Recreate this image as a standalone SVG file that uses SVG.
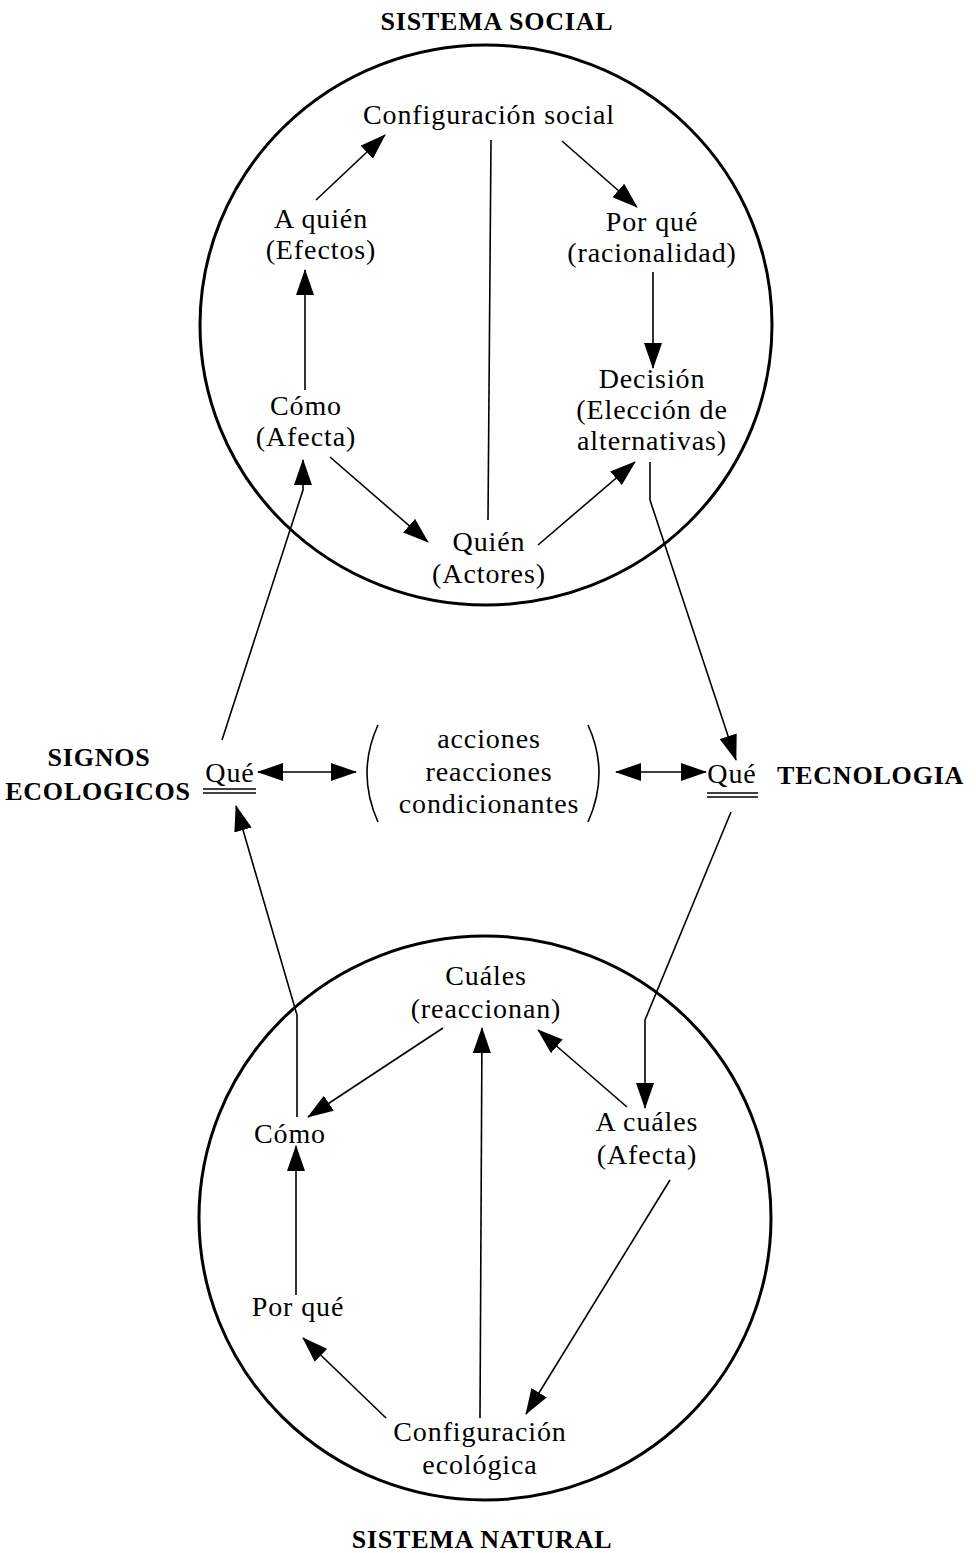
<svg xmlns="http://www.w3.org/2000/svg" width="976" height="1553" viewBox="0 0 976 1553">
<style>
text{font-family:"Liberation Serif","Times New Roman",serif;fill:#000}
.n{font-size:28px;letter-spacing:0.9px;text-anchor:middle}
.t{font-size:26px;font-weight:bold;letter-spacing:0.8px}
.c{fill:none;stroke:#000;stroke-width:1.6}
.a{marker-end:url(#ah)}
.d{marker-start:url(#ah);marker-end:url(#ah)}
.circ{fill:none;stroke:#000;stroke-width:3}
</style>
<defs>
<marker id="ah" markerWidth="26" markerHeight="18" refX="25" refY="9" orient="auto-start-reverse" markerUnits="userSpaceOnUse"><path d="M0,0 L26,9 L0,18 z" fill="#000"/></marker>
</defs>
<rect width="976" height="1553" fill="#fff"/>
<g id="titles">
<text class="t" x="497" y="30" text-anchor="middle">SISTEMA SOCIAL</text>
<text class="t" x="482" y="1548" text-anchor="middle">SISTEMA NATURAL</text>
<text class="t" x="99" y="766" text-anchor="middle">SIGNOS</text>
<text class="t" x="98" y="800" text-anchor="middle">ECOLOGICOS</text>
<text class="t" x="777" y="784">TECNOLOGIA</text>
</g>
<g id="circles">
<ellipse class="circ" cx="486" cy="325" rx="286" ry="280"/>
<ellipse class="circ" cx="485" cy="1218" rx="286" ry="282"/>
</g>
<g id="connectors">
<line class="c a" x1="316" y1="200" x2="385" y2="135"/>
<line class="c a" x1="562" y1="141" x2="637" y2="207"/>
<line class="c a" x1="653" y1="272" x2="653" y2="368"/>
<line class="c" x1="491" y1="140" x2="488" y2="520"/>
<line class="c a" x1="305" y1="390" x2="305" y2="270"/>
<line class="c a" x1="330" y1="457" x2="428" y2="542"/>
<line class="c a" x1="538" y1="545" x2="635" y2="462"/>
<polyline class="c a" points="650,462 650,500 736,760"/>
<polyline class="c a" points="222,740 303,490 303,460"/>
<polyline class="c a" points="731,812 645,1020 645,1108"/>
<polyline class="c a" points="297,1117 297,1015 236,806"/>
<line class="c a" x1="443" y1="1028" x2="308" y2="1117"/>
<line class="c a" x1="627" y1="1107" x2="538" y2="1030"/>
<line class="c a" x1="480" y1="1418" x2="482" y2="1028"/>
<line class="c a" x1="670" y1="1180" x2="526" y2="1414"/>
<line class="c a" x1="386" y1="1418" x2="303" y2="1338"/>
<line class="c a" x1="296" y1="1295" x2="296" y2="1146"/>
<line class="c d" x1="258" y1="772" x2="356" y2="772"/>
<line class="c d" x1="616" y1="772" x2="706" y2="772"/>
</g>
<g id="n-config-social"><text class="n" x="489" y="124">Configuración social</text></g>
<g id="n-a-quien"><text class="n" x="321" y="228">A quién</text><text class="n" x="321" y="259">(Efectos)</text></g>
<g id="n-por-que-s"><text class="n" x="652" y="231">Por qué</text><text class="n" x="652" y="262">(racionalidad)</text></g>
<g id="n-como-s"><text class="n" x="306" y="415">Cómo</text><text class="n" x="306" y="446">(Afecta)</text></g>
<g id="n-decision"><text class="n" x="652" y="388">Decisión</text><text class="n" x="652" y="419">(Elección de</text><text class="n" x="652" y="450">alternativas)</text></g>
<g id="n-quien"><text class="n" x="489" y="551">Quién</text><text class="n" x="489" y="583">(Actores)</text></g>
<g id="n-que-left"><text class="n" x="230" y="782">Qué</text><line x1="203" y1="789" x2="256" y2="789" stroke="#000" stroke-width="1.3"/><line x1="203" y1="793" x2="256" y2="793" stroke="#000" stroke-width="1.3"/></g>
<g id="n-center"><text class="n" x="489" y="748">acciones</text><text class="n" x="489" y="781">reacciones</text><text class="n" x="489" y="813">condicionantes</text>
<path d="M378,725 Q356,773 378,822" class="c"/><path d="M588,725 Q610,773 588,822" class="c"/></g>
<g id="n-que-right"><text class="n" x="732" y="783">Qué</text><line x1="707" y1="793" x2="758" y2="793" stroke="#000" stroke-width="1.3"/><line x1="707" y1="797" x2="758" y2="797" stroke="#000" stroke-width="1.3"/></g>
<g id="n-cuales"><text class="n" x="486" y="985">Cuáles</text><text class="n" x="486" y="1018">(reaccionan)</text></g>
<g id="n-como-n"><text class="n" x="290" y="1143">Cómo</text></g>
<g id="n-a-cuales"><text class="n" x="647" y="1131">A cuáles</text><text class="n" x="647" y="1164">(Afecta)</text></g>
<g id="n-por-que-n"><text class="n" x="298" y="1316">Por qué</text></g>
<g id="n-config-eco"><text class="n" x="480" y="1441">Configuración</text><text class="n" x="480" y="1474">ecológica</text></g>
</svg>
